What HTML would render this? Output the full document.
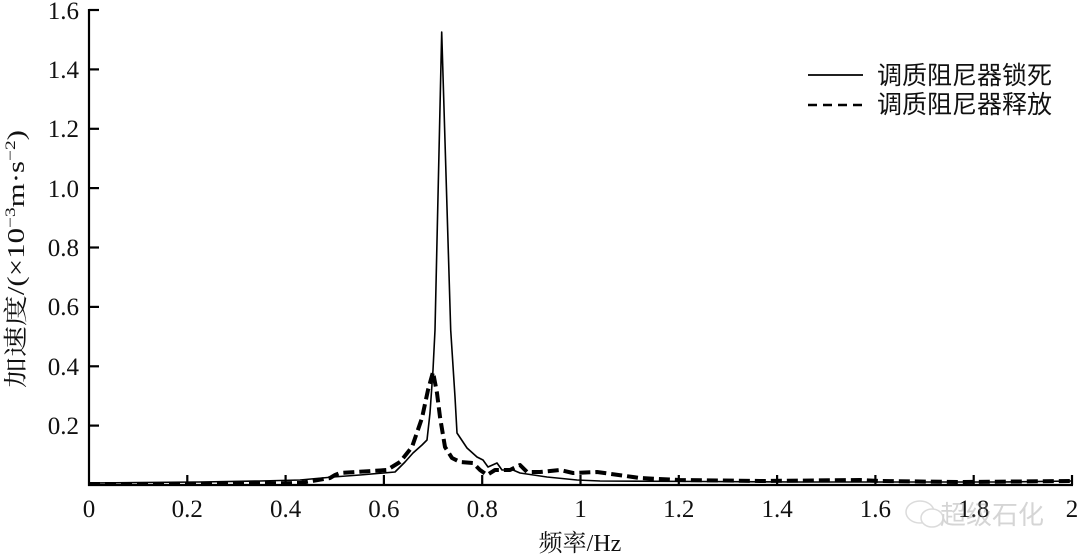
<!DOCTYPE html>
<html>
<head>
<meta charset="utf-8">
<style>
html,body{margin:0;padding:0;background:#fff;}
svg{display:block;}
.num{font-family:"Liberation Serif","Noto Serif CJK SC",serif;font-size:25px;fill:#111;}
.cjk{font-family:"Liberation Serif","Noto Serif CJK SC",serif;font-size:24px;fill:#111;}
.leg{font-family:"Liberation Sans","Noto Sans CJK SC",sans-serif;font-size:25px;fill:#111;}
</style>
</head>
<body>
<svg width="1080" height="559" viewBox="0 0 1080 559" xmlns="http://www.w3.org/2000/svg">
<rect width="1080" height="559" fill="#fff"/>

<!-- axes -->
<g stroke="#000" stroke-width="2.2" fill="none">
  <line x1="89" y1="9" x2="89" y2="486"/>
  <line x1="88" y1="485" x2="1073" y2="485"/>
  <!-- y ticks -->
  <line x1="89" y1="10" x2="99" y2="10"/>
  <line x1="89" y1="69.4" x2="99" y2="69.4"/>
  <line x1="89" y1="128.8" x2="99" y2="128.8"/>
  <line x1="89" y1="188.1" x2="99" y2="188.1"/>
  <line x1="89" y1="247.5" x2="99" y2="247.5"/>
  <line x1="89" y1="306.9" x2="99" y2="306.9"/>
  <line x1="89" y1="366.3" x2="99" y2="366.3"/>
  <line x1="89" y1="425.6" x2="99" y2="425.6"/>
  <!-- x ticks -->
  <line x1="187.3" y1="485" x2="187.3" y2="475"/>
  <line x1="285.6" y1="485" x2="285.6" y2="475"/>
  <line x1="383.9" y1="485" x2="383.9" y2="475"/>
  <line x1="482.2" y1="485" x2="482.2" y2="475"/>
  <line x1="580.5" y1="485" x2="580.5" y2="475"/>
  <line x1="678.8" y1="485" x2="678.8" y2="475"/>
  <line x1="777.1" y1="485" x2="777.1" y2="475"/>
  <line x1="875.4" y1="485" x2="875.4" y2="475"/>
  <line x1="973.7" y1="485" x2="973.7" y2="475"/>
  <line x1="1072" y1="485" x2="1072" y2="475"/>
</g>

<!-- y tick labels -->
<g class="num" text-anchor="end">
  <text x="79" y="19">1.6</text>
  <text x="79" y="78">1.4</text>
  <text x="79" y="137">1.2</text>
  <text x="79" y="197">1.0</text>
  <text x="79" y="256">0.8</text>
  <text x="79" y="315">0.6</text>
  <text x="79" y="375">0.4</text>
  <text x="79" y="434">0.2</text>
</g>

<!-- x tick labels -->
<g class="num" text-anchor="middle">
  <text x="89" y="517">0</text>
  <text x="187.3" y="517">0.2</text>
  <text x="285.6" y="517">0.4</text>
  <text x="383.9" y="517">0.6</text>
  <text x="482.2" y="517">0.8</text>
  <text x="580.5" y="517">1</text>
  <text x="678.8" y="517">1.2</text>
  <text x="777.1" y="517">1.4</text>
  <text x="875.4" y="517">1.6</text>
  <text x="973.7" y="517">1.8</text>
  <text x="1072" y="517">2</text>
</g>

<!-- axis titles -->
<text class="cjk" x="580" y="551" text-anchor="middle">频率/Hz</text>
<text class="cjk" transform="translate(24,259) rotate(-90)" text-anchor="middle" textLength="258" lengthAdjust="spacingAndGlyphs">加速度/(×10<tspan dy="-9" font-size="15">−3</tspan><tspan dy="9">m·s</tspan><tspan dy="-9" font-size="15">−2</tspan><tspan dy="9">)</tspan></text>

<!-- solid series: damper locked -->
<polyline fill="none" stroke="#000" stroke-width="1.6" stroke-linejoin="round"
 points="89,483 140,482.5 200,482 260,481 300,480 333,477 360,475 395,472 405,462 413,453 422,445 427,440 430,413 433,370 435,330 441.7,32 450.7,330 455,397 457,433 467,448 477,457 483,460 488,467 497,463 502,470 513,470 520,473 547,477 577,480 600,481 700,481.5 800,482 900,482 1000,482 1072,481"/>

<!-- dashed series: damper released -->
<polyline fill="none" stroke="#000" stroke-width="4" stroke-dasharray="11,5" stroke-linejoin="round"
 points="89,484 200,484 300,483 330,478 335,475 340,473 387,470 400,462 412,447 422,418 428,390 433,372 437,393 440,417 445,447 452,458 460,462 473,463 480,470 487,475 495,470 510,470 520,465 527,472 540,472 560,470 573,473 597,472 640,478 680,480 760,481 860,480 880,481 960,482 1072,481"/>

<!-- legend -->
<line x1="808" y1="75" x2="863" y2="75" stroke="#000" stroke-width="1.8"/>
<line x1="808" y1="105" x2="863" y2="105" stroke="#000" stroke-width="2.6" stroke-dasharray="9,6"/>
<text class="leg" x="877" y="84">调质阻尼器锁死</text>
<text class="leg" x="877" y="113">调质阻尼器释放</text>

<!-- watermark -->
<g opacity="0.35">
  <ellipse cx="920" cy="512" rx="14" ry="11" fill="none" stroke="#999" stroke-width="1.5"/>
  <ellipse cx="932" cy="518" rx="11" ry="9" fill="#fff" stroke="#999" stroke-width="1.5"/>
  <text x="940" y="524" font-family="'Liberation Sans','Noto Sans CJK SC',sans-serif" font-size="26" fill="#888">超级石化</text>
</g>
</svg>
</body>
</html>
